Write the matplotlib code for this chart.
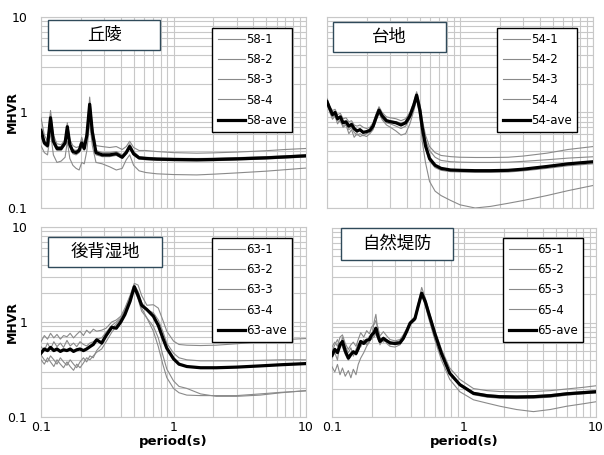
import matplotlib
matplotlib.use("Agg")
import matplotlib.pyplot as plt
from matplotlib.patches import Rectangle
from matplotlib.ticker import LogLocator, FixedLocator, FixedFormatter, NullFormatter

plt.rcParams['font.family'] = ['DejaVu Sans']

# ---------------- data ----------------
titles = ["丘陵", "台地", "後背湿地", "自然堤防"]
labels1 = ["58-1", "58-2", "58-3", "58-4", "58-ave"]
labels2 = ["54-1", "54-2", "54-3", "54-4", "54-ave"]
labels3 = ["63-1", "63-2", "63-3", "63-4", "63-ave"]
labels4 = ["65-1", "65-2", "65-3", "65-4", "65-ave"]

T1 = [0.100, 0.106, 0.112, 0.118, 0.124, 0.132, 0.142, 0.152, 0.158, 0.165, 0.174, 0.184,
      0.194, 0.203, 0.212, 0.222, 0.233, 0.244, 0.26, 0.29, 0.33, 0.37, 0.41, 0.44, 0.467,
      0.50, 0.55, 0.62, 0.75, 1.0, 1.5, 2.0, 3.0, 5.0, 7.0, 10.0]
s58_1 = [0.88, 0.58, 0.50, 1.05, 0.58, 0.47, 0.46, 0.52, 0.78, 0.52, 0.45, 0.43,
         0.44, 0.52, 0.47, 0.64, 1.45, 0.72, 0.45, 0.44, 0.43, 0.44, 0.41, 0.44, 0.50,
         0.43, 0.40, 0.40, 0.39, 0.38, 0.375, 0.378, 0.385, 0.398, 0.41, 0.42]
s58_2 = [0.60, 0.50, 0.47, 0.95, 0.52, 0.44, 0.44, 0.50, 0.74, 0.48, 0.41, 0.40,
         0.42, 0.55, 0.45, 0.62, 1.30, 0.66, 0.40, 0.38, 0.38, 0.39, 0.36, 0.40, 0.47,
         0.39, 0.345, 0.34, 0.335, 0.332, 0.33, 0.332, 0.337, 0.345, 0.352, 0.36]
s58_3 = [0.55, 0.46, 0.43, 0.80, 0.47, 0.40, 0.40, 0.46, 0.66, 0.44, 0.37, 0.36,
         0.38, 0.44, 0.40, 0.55, 1.15, 0.58, 0.36, 0.345, 0.345, 0.355, 0.33, 0.37, 0.42,
         0.355, 0.325, 0.32, 0.316, 0.313, 0.311, 0.313, 0.318, 0.326, 0.333, 0.342]
s58_4 = [0.45, 0.38, 0.36, 0.62, 0.36, 0.30, 0.31, 0.34, 0.50, 0.33, 0.28, 0.26,
         0.25, 0.30, 0.29, 0.40, 0.80, 0.45, 0.30, 0.29, 0.27, 0.25, 0.26, 0.32, 0.36,
         0.28, 0.245, 0.235, 0.228, 0.224, 0.222, 0.226, 0.233, 0.243, 0.252, 0.262]
s58_ave = [0.65, 0.48, 0.45, 0.88, 0.50, 0.42, 0.42, 0.48, 0.71, 0.46, 0.39, 0.38,
           0.40, 0.48, 0.42, 0.58, 1.22, 0.62, 0.38, 0.36, 0.36, 0.37, 0.34, 0.38, 0.44,
           0.37, 0.335, 0.33, 0.325, 0.322, 0.32, 0.322, 0.327, 0.335, 0.343, 0.352]

T2 = [0.100, 0.105, 0.110, 0.115, 0.120, 0.126, 0.132, 0.139, 0.146, 0.153, 0.160, 0.168,
      0.177, 0.187, 0.198, 0.21, 0.222, 0.235, 0.246, 0.26, 0.28, 0.30, 0.33, 0.36, 0.39,
      0.42, 0.45, 0.472, 0.50, 0.52, 0.55, 0.59, 0.65, 0.72, 0.85, 1.0, 1.3, 1.7, 2.3,
      3.0, 4.5, 6.5, 10.0]
s54_1 = [1.40, 1.15, 1.05, 1.08, 0.95, 0.98, 0.86, 0.88, 0.80, 0.82, 0.74, 0.72,
         0.74, 0.70, 0.68, 0.70, 0.78, 0.98, 1.15, 1.00, 0.90, 0.88, 0.86, 0.82, 0.86,
         1.00, 1.30, 1.65, 1.20, 0.85, 0.58, 0.44, 0.38, 0.355, 0.345, 0.34, 0.338, 0.338, 0.34,
         0.35, 0.375, 0.41, 0.44]
s54_2 = [1.20, 1.05, 0.90, 0.94, 0.82, 0.80, 0.72, 0.76, 0.66, 0.70, 0.62, 0.58,
         0.60, 0.57, 0.60, 0.62, 0.68, 0.86, 1.00, 0.86, 0.78, 0.76, 0.72, 0.68, 0.72,
         0.86, 1.15, 1.45, 1.10, 0.78, 0.52, 0.40, 0.34, 0.315, 0.305, 0.302, 0.30, 0.30, 0.302,
         0.308, 0.32, 0.333, 0.344]
s54_3 = [1.25, 1.00, 0.85, 0.92, 0.76, 0.84, 0.70, 0.74, 0.60, 0.66, 0.55, 0.60,
         0.56, 0.58, 0.56, 0.60, 0.66, 0.84, 0.98, 0.84, 0.74, 0.70, 0.64, 0.58, 0.60,
         0.76, 1.05, 1.40, 0.90, 0.50, 0.30, 0.19, 0.15, 0.135, 0.12, 0.108, 0.10, 0.104, 0.112,
         0.12, 0.135, 0.152, 0.172]
s54_4 = [1.35, 1.15, 0.98, 1.04, 0.88, 0.92, 0.82, 0.78, 0.74, 0.76, 0.70, 0.62,
         0.68, 0.60, 0.64, 0.66, 0.74, 0.94, 1.10, 0.96, 0.84, 0.82, 0.80, 0.78, 0.80,
         0.95, 1.25, 1.58, 1.02, 0.68, 0.42, 0.31, 0.265, 0.248, 0.24, 0.238, 0.236, 0.236, 0.238,
         0.245, 0.26, 0.277, 0.29]
s54_ave = [1.30, 1.10, 0.95, 1.00, 0.86, 0.90, 0.78, 0.80, 0.72, 0.75, 0.68, 0.64,
           0.66, 0.62, 0.63, 0.65, 0.72, 0.90, 1.06, 0.92, 0.82, 0.80, 0.78, 0.74, 0.78,
           0.92, 1.20, 1.52, 1.05, 0.70, 0.45, 0.33, 0.28, 0.26, 0.25, 0.248, 0.246, 0.246, 0.248,
           0.255, 0.272, 0.29, 0.305]

T3 = [0.100, 0.106, 0.112, 0.118, 0.125, 0.132, 0.140, 0.148, 0.157, 0.166, 0.176, 0.186,
      0.197, 0.209, 0.221, 0.234, 0.248, 0.263, 0.287, 0.31, 0.342, 0.37, 0.40, 0.43, 0.47,
      0.506, 0.54, 0.575, 0.63, 0.705, 0.768, 0.83, 0.89, 1.0, 1.1, 1.26, 1.6, 2.1, 3.0,
      4.5, 6.5, 10.0]
s63_1 = [0.62, 0.72, 0.66, 0.76, 0.68, 0.74, 0.66, 0.72, 0.70, 0.76, 0.68, 0.74,
         0.80, 0.72, 0.82, 0.76, 0.84, 0.80, 0.82, 0.86, 1.00, 1.05, 1.15, 1.40, 1.90,
         2.55, 2.45, 1.90, 1.50, 1.52, 1.40, 1.05, 0.80, 0.63, 0.58, 0.57, 0.565, 0.57, 0.59,
         0.62, 0.65, 0.67]
s63_2 = [0.55, 0.50, 0.60, 0.52, 0.62, 0.55, 0.60, 0.54, 0.64, 0.56, 0.60, 0.55,
         0.62, 0.58, 0.56, 0.60, 0.62, 0.66, 0.68, 0.78, 0.92, 1.00, 1.10, 1.30, 1.75,
         2.45, 2.10, 1.60, 1.35, 1.25, 1.05, 0.80, 0.60, 0.47, 0.42, 0.40, 0.39, 0.39, 0.39,
         0.395, 0.40, 0.40]
s63_3 = [0.40, 0.36, 0.42, 0.38, 0.34, 0.40, 0.36, 0.33, 0.38, 0.34, 0.31, 0.36,
         0.33, 0.37, 0.42, 0.40, 0.44, 0.48, 0.52, 0.62, 0.78, 0.90, 1.05, 1.25, 1.70,
         2.20, 1.75, 1.30, 1.10, 0.90, 0.68, 0.45, 0.32, 0.24, 0.21, 0.20, 0.175, 0.165, 0.165,
         0.17, 0.18, 0.19]
s63_4 = [0.45, 0.40, 0.38, 0.44, 0.40, 0.36, 0.42, 0.38, 0.35, 0.40, 0.36, 0.33,
         0.38, 0.42, 0.38, 0.44, 0.42, 0.50, 0.58, 0.70, 0.85, 0.95, 1.08, 1.35, 1.85,
         2.30, 1.80, 1.40, 1.10, 0.80, 0.55, 0.36, 0.26, 0.20, 0.18, 0.17, 0.168, 0.168, 0.168,
         0.175, 0.182, 0.188]
s63_ave = [0.47, 0.52, 0.50, 0.54, 0.50, 0.52, 0.49, 0.51, 0.50, 0.52, 0.49, 0.51,
           0.52, 0.50, 0.52, 0.55, 0.58, 0.65, 0.60, 0.72, 0.88, 0.86, 1.00, 1.20, 1.65,
           2.35, 1.90, 1.50, 1.35, 1.15, 0.92, 0.68, 0.53, 0.41, 0.36, 0.34, 0.33, 0.33, 0.335,
           0.345, 0.355, 0.365]

T4 = [0.100, 0.105, 0.110, 0.115, 0.120, 0.126, 0.133, 0.139, 0.145, 0.152, 0.158, 0.165,
      0.174, 0.183, 0.192, 0.200, 0.208, 0.215, 0.223, 0.231, 0.245, 0.26, 0.275, 0.30,
      0.327, 0.347, 0.37, 0.39, 0.425, 0.45, 0.478, 0.51, 0.536, 0.57, 0.60, 0.675, 0.78,
      0.93, 1.18, 1.5, 1.87, 2.5, 3.36, 4.5, 6.0, 8.0, 10.0]
s65_1 = [0.55, 0.62, 0.56, 0.70, 0.74, 0.60, 0.52, 0.58, 0.62, 0.56, 0.66, 0.78,
         0.70, 0.82, 0.76, 0.90, 0.95, 1.05, 0.85, 0.72, 0.80, 0.72, 0.66, 0.64,
         0.66, 0.74, 0.88, 1.02, 1.15, 1.60, 2.35, 1.80, 1.40, 1.05, 0.83, 0.52, 0.33,
         0.25, 0.20, 0.19, 0.186, 0.185, 0.186, 0.19, 0.198, 0.206, 0.214]
s65_2 = [0.34, 0.30, 0.36, 0.28, 0.33, 0.27, 0.31, 0.26, 0.32, 0.28, 0.36, 0.42,
         0.48, 0.56, 0.62, 0.70, 1.00, 1.22, 0.80, 0.58, 0.70, 0.60, 0.56, 0.55,
         0.58, 0.66, 0.80, 0.95, 1.05, 1.40, 1.95, 1.50, 1.15, 0.85, 0.66, 0.40, 0.25,
         0.185, 0.152, 0.14, 0.13, 0.12, 0.114, 0.12, 0.13, 0.138, 0.145]
s65_3 = [0.50, 0.58, 0.66, 0.54, 0.70, 0.56, 0.48, 0.54, 0.44, 0.52, 0.60, 0.55,
         0.66, 0.60, 0.72, 0.66, 0.75, 0.80, 0.90, 0.68, 0.62, 0.66, 0.58, 0.62,
         0.64, 0.70, 0.84, 0.96, 1.12, 1.55, 2.10, 1.70, 1.35, 1.00, 0.78, 0.48, 0.30,
         0.225, 0.182, 0.172, 0.168, 0.166, 0.168, 0.172, 0.18, 0.185, 0.19]
s65_4 = [0.42, 0.48, 0.40, 0.62, 0.55, 0.46, 0.40, 0.44, 0.50, 0.45, 0.50, 0.58,
         0.62, 0.58, 0.64, 0.68, 0.70, 0.76, 0.66, 0.60, 0.65, 0.62, 0.60, 0.58,
         0.60, 0.66, 0.80, 0.96, 1.08, 1.45, 2.00, 1.62, 1.28, 0.96, 0.75, 0.46, 0.285,
         0.215, 0.172, 0.162, 0.158, 0.157, 0.158, 0.162, 0.17, 0.176, 0.18]
s65_ave = [0.45, 0.52, 0.48, 0.58, 0.63, 0.50, 0.42, 0.46, 0.49, 0.47, 0.53, 0.63,
           0.60, 0.65, 0.66, 0.74, 0.78, 0.87, 0.72, 0.63, 0.68, 0.64, 0.61, 0.60,
           0.61, 0.68, 0.82, 0.98, 1.10, 1.50, 2.04, 1.65, 1.30, 0.98, 0.77, 0.47, 0.29,
           0.22, 0.178, 0.168, 0.164, 0.163, 0.164, 0.168, 0.176, 0.181, 0.185]

xticks = [0.1, 1, 10]
xtick_labels = ["0.1", "1", "10"]
yticks = [0.1, 1, 10]
ytick_labels = ["0.1", "1", "10"]

panels = [
    (T1, [s58_1, s58_2, s58_3, s58_4, s58_ave], labels1),
    (T2, [s54_1, s54_2, s54_3, s54_4, s54_ave], labels2),
    (T3, [s63_1, s63_2, s63_3, s63_4, s63_ave], labels3),
    (T4, [s65_1, s65_2, s65_3, s65_4, s65_ave], labels4),
]

# ---------------- layout (pixels) ----------------
W, H = 604, 455
axes_px = [(41, 17, 306, 208), (327, 17, 593, 208),
           (41, 227, 306, 417), (332, 228, 596, 417)]
title_px = [(48, 20, 160, 50), (333, 22, 446, 52),
            (48, 237, 162, 267), (341, 228, 453, 260)]
legend_px = [(292, 28), (577, 28), (292, 238), (583, 238)]

fig = plt.figure(figsize=(W / 100, H / 100), dpi=100)
grid_col = "#c8c8c8"
line_gray = "#8a8a8a"

for i, ((T, series, labs), (x0, y0, x1, y1)) in enumerate(zip(panels, axes_px)):
    ax = fig.add_axes([x0 / W, 1 - y1 / H, (x1 - x0) / W, (y1 - y0) / H])
    ax.set_xscale("log")
    ax.set_yscale("log")
    ax.set_xlim(0.1, 10)
    ax.set_ylim(0.1, 10)
    for s, lab in zip(series[:4], labs[:4]):
        ax.plot(T, s, color=line_gray, lw=0.8, label=lab, zorder=3)
    ax.plot(T, series[4], color="black", lw=2.3, label=labs[4], zorder=4)

    ax.xaxis.set_major_locator(FixedLocator(xticks))
    ax.yaxis.set_major_locator(FixedLocator(yticks))
    ax.xaxis.set_minor_locator(LogLocator(base=10, subs=range(2, 10)))
    ax.yaxis.set_minor_locator(LogLocator(base=10, subs=range(2, 10)))
    ax.xaxis.set_minor_formatter(NullFormatter())
    ax.yaxis.set_minor_formatter(NullFormatter())
    ax.grid(True, which="both", color=grid_col, lw=0.8, zorder=0)
    ax.set_axisbelow(True)
    for sp in ax.spines.values():
        sp.set_color(grid_col)
        sp.set_linewidth(0.8)
    ax.tick_params(which="both", length=0, labelsize=9)
    ax.tick_params(axis="y", pad=10)
    ax.tick_params(axis="x", pad=3)

    if i in (0, 2):
        ax.yaxis.set_major_formatter(FixedFormatter(ytick_labels))
        ax.set_ylabel("MHVR", fontsize=9, fontweight="bold", va="center")
        ax.yaxis.set_label_coords(-0.108, 0.5)
    else:
        ax.yaxis.set_major_formatter(NullFormatter())
    if i in (2, 3):
        ax.xaxis.set_major_formatter(FixedFormatter(xtick_labels))
        ax.set_xlabel("period(s)", fontsize=9.5, fontweight="bold", va="center")
        ax.xaxis.set_label_coords(0.5, -(442 - y1) / (y1 - y0))
    else:
        ax.xaxis.set_major_formatter(NullFormatter())

    lx, ly = legend_px[i]
    leg = ax.legend(loc="upper right",
                    bbox_to_anchor=((lx - x0) / (x1 - x0), (y1 - ly) / (y1 - y0)),
                    fontsize=8.5, frameon=True, fancybox=False, edgecolor="black",
                    framealpha=1, handlelength=2.3, handletextpad=0.1,
                    labelspacing=0.6, borderpad=0.45, borderaxespad=0)
    leg.get_frame().set_linewidth(1.0)
    leg.set_zorder(10)

    tx0, ty0, tx1, ty1 = title_px[i]
    rect = Rectangle((tx0 / W, 1 - ty1 / H), (tx1 - tx0) / W, (ty1 - ty0) / H,
                     transform=fig.transFigure, facecolor="white",
                     edgecolor="#2f4a5a", lw=1.0, zorder=10)
    fig.add_artist(rect)
    fig.text((tx0 + tx1) / 2 / W, 1 - (ty0 + ty1) / 2 / H, titles[i],
             ha="center", va="center", fontsize=12.5,
             family=["Noto Sans CJK JP", "DejaVu Sans"], zorder=11)

fig.savefig("out.png", dpi=100)
